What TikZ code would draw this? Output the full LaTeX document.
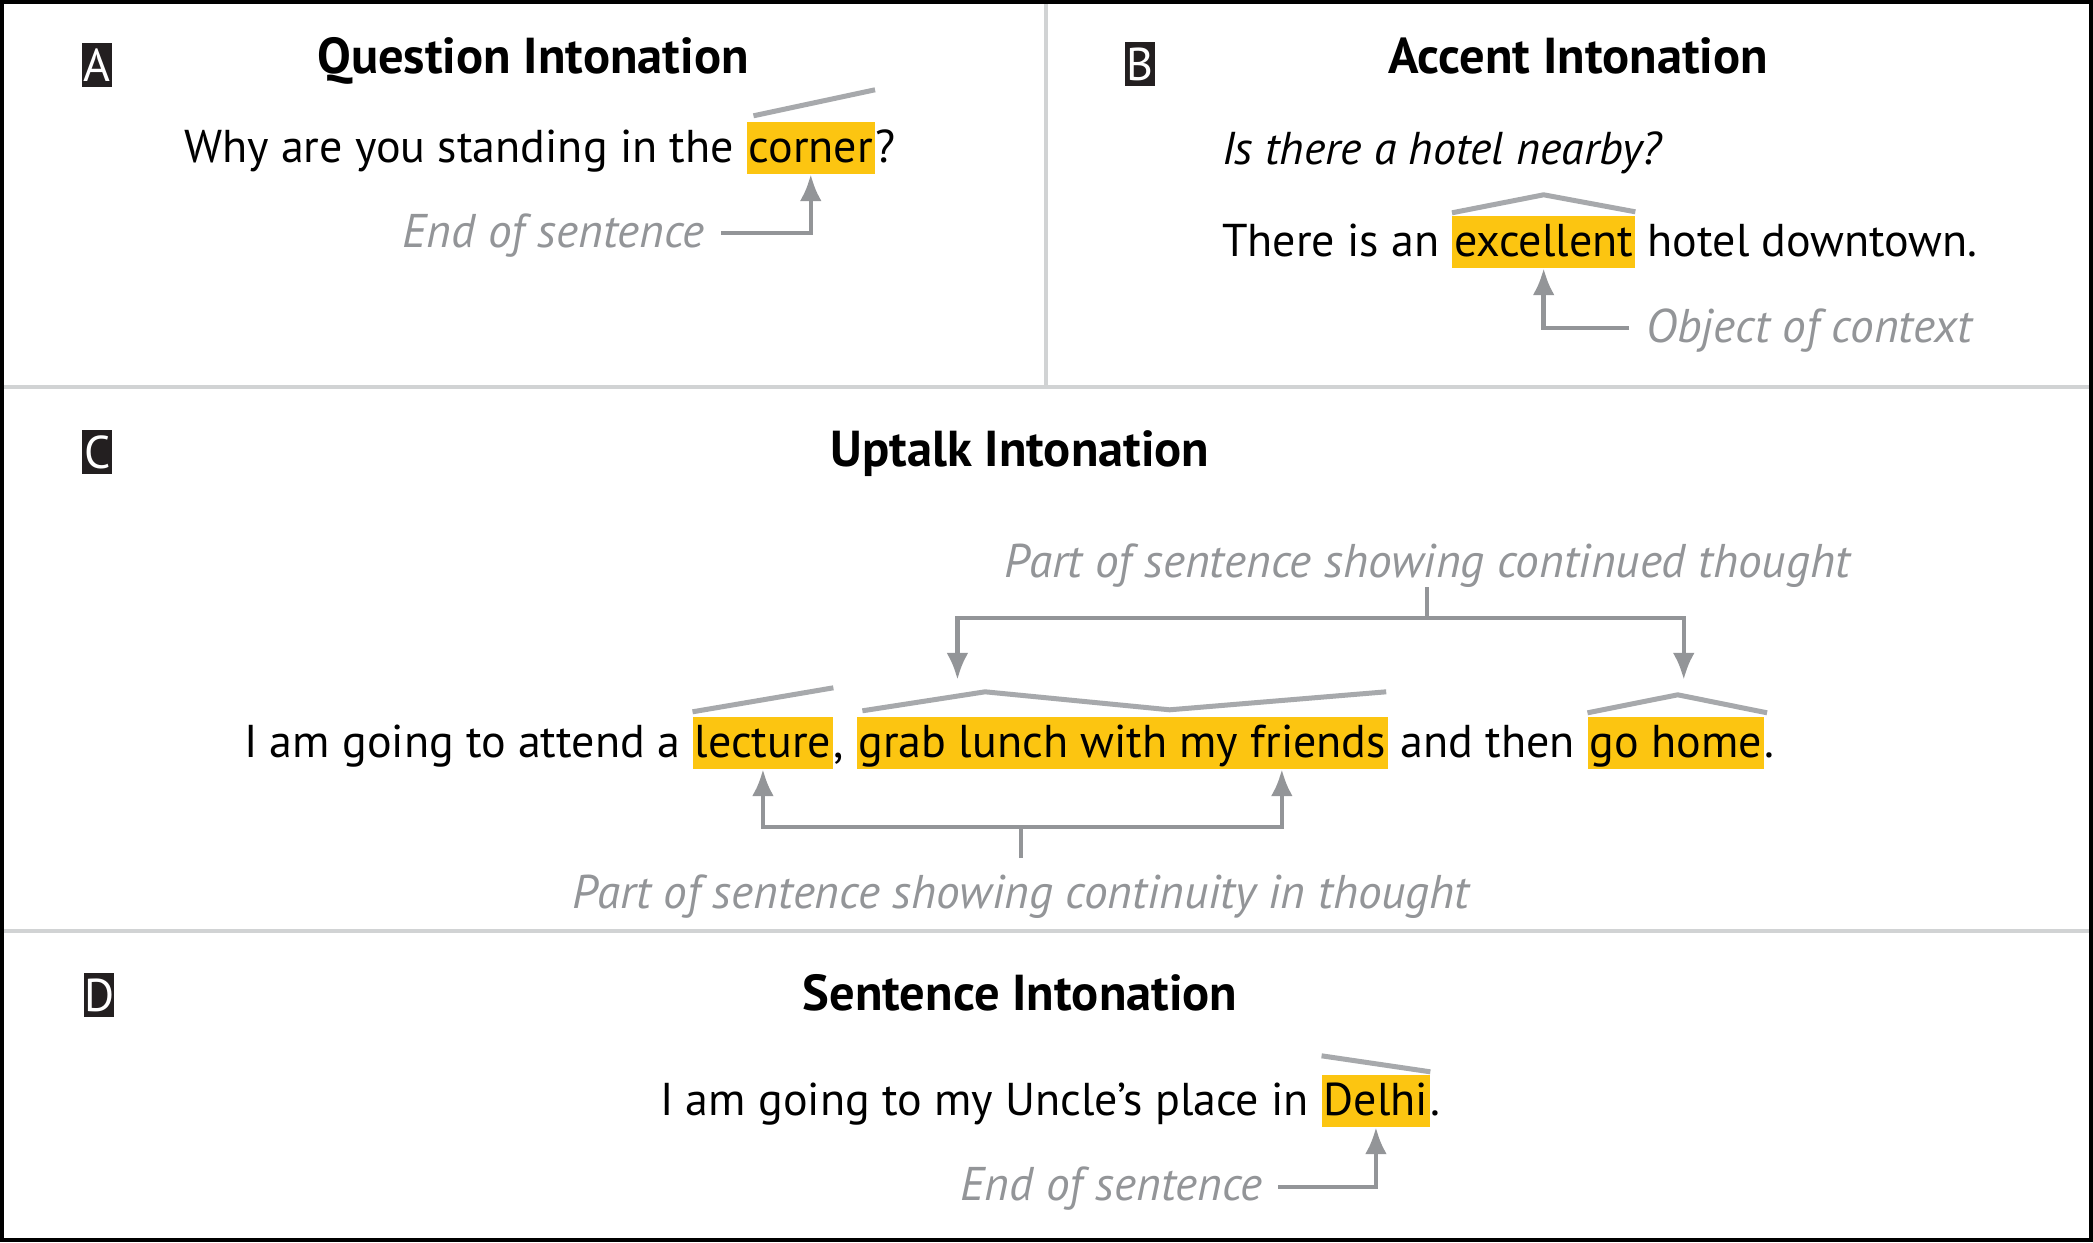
\documentclass[tikz,border=0pt]{standalone}
\usepackage{fontspec}
\setmainfont{PT Sans}
\usetikzlibrary{arrows.meta,calc}
\definecolor{hlc}{HTML}{FCC511}
\definecolor{anngray}{HTML}{939598}
\definecolor{intgray}{HTML}{A7A9AC}
\definecolor{divgray}{HTML}{D1D3D4}
\definecolor{boxblack}{HTML}{231F20}
\begin{document}
\begin{tikzpicture}[x=1pt,y=-1pt,
  txt/.style={inner sep=0pt, anchor=base west, font=\fontsize{46}{56}\selectfont},
  itxt/.style={txt, font=\fontsize{46}{56}\selectfont\itshape},
  hl/.style={txt, fill=hlc, inner xsep=2pt, inner ysep=2pt, text height=38pt, text depth=10pt},
  ttl/.style={inner sep=0pt, anchor=base, font=\fontsize{50.5}{60}\selectfont\bfseries},
  ann/.style={inner sep=0pt, text=anngray, font=\fontsize{47.3}{56}\selectfont\itshape},
  pletter/.style={anchor=north west, fill=boxblack, text=white, inner sep=0pt,
    minimum width=30pt, minimum height=44pt, font=\fontsize{46}{50}\selectfont},
  arr/.style={draw=anngray, line width=4.5pt, -{Latex[length=27pt,width=22pt]}},
  brk/.style={draw=anngray, line width=4.5pt},
  inton/.style={draw=intgray, line width=5pt},
  divline/.style={draw=divgray, line width=4pt}]
\useasboundingbox (0,0) rectangle (2093,1242);
\fill[white] (0,0) rectangle (2093,1242);

% dividers
\draw[divline] (0,387) -- (2093,387);
\draw[divline] (0,931) -- (2093,931);
\draw[divline] (1046,0) -- (1046,387);
% outer frame
\draw[line width=4pt] (2,2) rectangle (2091,1240);

% panel letters
\node[pletter] (pA) at (82,43) {A};
\node[pletter] (pB) at (1125,42) {B};
\node[pletter] (pC) at (82,430) {C};
\node[pletter] (pD) at (84,973) {D};

% titles
\node[ttl] (tA) at (533,73) {Question Intonation};
\node[ttl] (tB) at (1578,73) {Accent Intonation};
\node[ttl] (tC) at (1020,466) {Uptalk Intonation};
\node[ttl] (tD) at (1020,1010) {Sentence Intonation};

% ---------- A ----------
\node[txt] (a1) at (184,162) {Why are you standing in the\ \null};
\node[hl] (aH) at (a1.base east) {corner};
\node[txt] (a2) at (aH.base east) {?};
\draw[inton] ($(aH.north west)+(7,-6)$) -- ($(aH.north east)+(0,-32)$);
\node[ann, anchor=base east] (aL) at (705,247) {End of sentence};
\draw[arr] ($(aL.base east)+(16,-14)$) -| (aH.south);

% ---------- B ----------
\node[itxt] (bQ) at (1222,164) {Is there a hotel nearby?};
\node[txt] (b1) at (1222,256) {There is an\ \null};
\node[hl] (bH) at (b1.base east) {excellent};
\node[txt] (b2) at (bH.base east) {\null\ hotel downtown.};
\draw[inton] ($(bH.north west)+(0,-3)$) -- ($(bH.north)+(0,-21)$) -- ($(bH.north east)+(0,-4)$);
\node[ann, anchor=base west] (bL) at (1646,342) {Object of context};
\draw[arr] ($(bL.base west)+(-17,-14)$) -| (bH.south);

% ---------- C ----------
\node[txt] (c1) at (244,757) {I am going to attend a\ \null};
\node[hl] (cL) at (c1.base east) {lecture};
\node[txt] (c2) at (cL.base east) {,\ \null};
\node[hl] (cG) at (c2.base east) {grab lunch with my friends};
\node[txt] (c3) at (cG.base east) {\null\ and then\ \null};
\node[hl] (cH) at (c3.base east) {go home};
\node[txt] (c4) at (cH.base east) {.};
\draw[inton] ($(cL.north west)+(0,-5)$) -- ($(cL.north east)+(0,-29)$);
\draw[inton] ($(cG.north west)+(6,-6)$) -- ($(cG.north west)!0.242!(cG.north east)+(0,-25)$)
  -- ($(cG.north west)!0.589!(cG.north east)+(0,-7)$) -- ($(cG.north east)+(-2,-25)$);
\draw[inton] ($(cH.north west)+(0,-4)$) -- ($(cH.north)+(2,-22)$) -- ($(cH.north east)+(3,-4)$);

\node[ann, anchor=base] (cT) at (1427,577) {Part of sentence showing continued thought};
\coordinate (cTa) at ($(cG.north west)!0.19!(cG.north east)+(0,-37)$);
\coordinate (cTb) at ($(cH.north)+(8,-37)$);
\coordinate (cTs) at ($(cT.base)+(0,10)$);
\coordinate (cTj) at ($(cTs)+(0,31)$);
\draw[brk] (cTs) -- (cTj);
\draw[arr] (cTj) -| (cTa);
\draw[arr] (cTj) -| (cTb);

\node[ann, anchor=base] (cB) at (1021,908) {Part of sentence showing continuity in thought};
\coordinate (cBs) at ($(cB.base)+(0,-50)$);
\coordinate (cBj) at ($(cBs)+(0,-31)$);
\coordinate (cBb) at ($(cG.south west)!0.80!(cG.south east)$);
\draw[brk] (cBs) -- (cBj);
\draw[arr] (cBj) -| (cL.south);
\draw[arr] (cBj) -| (cBb);

% ---------- D ----------
\node[txt] (d1) at (660,1115) {I am going to my Uncle’s place in\ \null};
\node[hl] (dH) at (d1.base east) {Delhi};
\node[txt] (d2) at (dH.base east) {.};
\draw[inton] ($(dH.north west)+(0,-19)$) -- ($(dH.north east)+(0,-3)$);
\node[ann, anchor=base east] (dL) at (1263,1200) {End of sentence};
\draw[arr] ($(dL.base east)+(15,-13)$) -| (dH.south);
\end{tikzpicture}
\end{document}
